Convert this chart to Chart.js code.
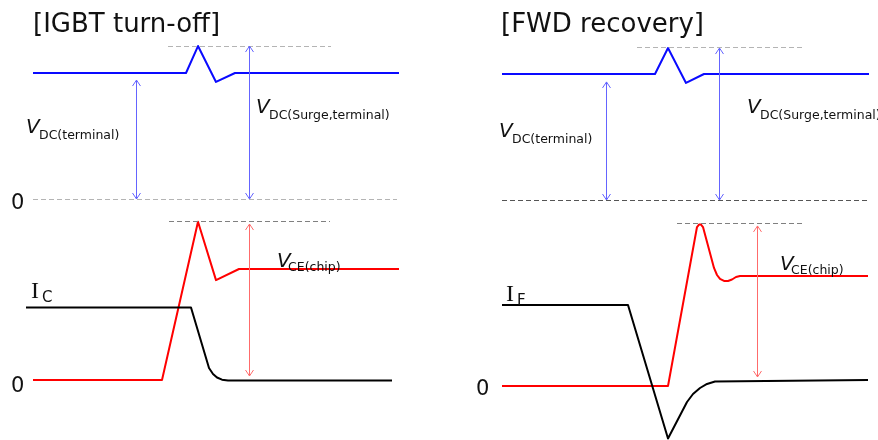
<!DOCTYPE html>
<html>
<head>
<meta charset="utf-8">
<script src="https://cdn.jsdelivr.net/npm/chart.js@4/dist/chart.umd.min.js"></script>
<style>
  html, body { margin: 0; padding: 0; background: #ffffff; }
  #wrap { position: relative; width: 878px; height: 440px; overflow: hidden; }
  canvas { position: absolute; top: 0; }
  #c1 { left: 0; }
  #c2 { left: 439px; }
</style>
</head>
<body>
<div id="wrap">
  <canvas id="c1" width="439" height="440"></canvas>
  <canvas id="c2" width="439" height="440"></canvas>
</div>
<script>
// ---- IGBT turn-off waveforms (time in arbitrary units, levels normalised to V_DC / I_C) ----
const igbtVtermT = [0, 7.65, 8.25, 9.15, 10.1, 18.3];
const igbtVterm  = [1, 1, 1.214, 0.929, 1, 1];
const igbtVchipT = [0, 6.45, 8.25, 9.15, 10.3, 18.3];
const igbtVchip  = [0, 0, 1.426, 0.90, 1, 1];
const igbtIcT    = [-0.35, 7.9, 8.8, 9.0, 9.2, 9.45, 9.75, 17.95];
const igbtIc     = [1, 1, 0.171, 0.089, 0.041, 0.011, 0, 0];

// ---- FWD recovery waveforms ----
const fwdVtermT = [1.5, 9.15, 9.8, 10.7, 11.6, 19.85];
const fwdVterm  = [1, 1, 1.206, 0.929, 1, 1];
const fwdVchipT = [1.5, 9.8, 11.25, 11.35, 11.45, 11.55, 12.1, 12.25, 12.4, 12.6, 12.8, 13.0, 13.2, 13.4, 19.8];
const fwdVchip  = [0, 0, 1.445, 1.468, 1.468, 1.445, 1.073, 1.009, 0.973, 0.955, 0.955, 0.968, 0.991, 1, 1];
const fwdIfT    = [1.5, 7.8, 9.8, 10.75, 11.05, 11.4, 11.75, 12.15, 19.8];
const fwdIf     = [1, 1, -0.757, -0.276, -0.171, -0.092, -0.039, -0.007, 0.013];

// ---- reference levels: [axis, level, t from, t to] ----
const igbtGuides = [['yTerm', 1.214, 6.75, 14.9], ['yTerm', 0, 0, 18.2], ['yChip', 1.432, 6.8, 14.85]];
const fwdGuides  = [['yTerm', 1.214, 8.25, 16.5], ['yTerm', 0, 1.5, 19.75], ['yChip', 1.482, 10.25, 16.5]];

// ---- dimension arrows: [axis, t, from level, to level] ----
const igbtArrows = [['yTerm', 5.15, 0, 0.944], ['yTerm', 10.8, 0, 1.214], ['yChip', 10.8, 0.036, 1.405]];
const fwdArrows  = [['yTerm', 6.7, 0, 0.937], ['yTerm', 12.35, 0, 1.206], ['yChip', 14.25, 0.082, 1.455]];

// ---- text ----
const panelTitles = ['[IGBT turn-off]', '[FWD recovery]'];
const currentSubs = ['C', 'F'];
const vdcSub = 'DC(terminal)';
const surgeSub = 'DC(Surge,terminal)';
const chipSub = 'CE(chip)';

const toPts = (ts, vs) => ts.map((t, i) => ({ x: t, y: vs[i] }));

const SANS = '"DejaVu Sans", Verdana, sans-serif';
const SERIF = '"Liberation Serif", "DejaVu Serif", serif';

function drawArrow(ctx, x, yA, yB, color) {
  const top = Math.min(yA, yB), bot = Math.max(yA, yB);
  ctx.save();
  ctx.strokeStyle = color;
  ctx.lineWidth = 1;
  ctx.beginPath();
  ctx.moveTo(x, top); ctx.lineTo(x, bot);
  ctx.moveTo(x - 4, top + 6); ctx.lineTo(x, top); ctx.lineTo(x + 4, top + 6);
  ctx.moveTo(x - 4, bot - 6); ctx.lineTo(x, bot); ctx.lineTo(x + 4, bot - 6);
  ctx.stroke();
  ctx.restore();
}

function drawSubLabel(ctx, x, y, main, sub, mainFont, subFont, subDx, subDy) {
  ctx.font = mainFont;
  ctx.fillText(main, x, y);
  ctx.font = subFont;
  ctx.fillText(sub, x + subDx, y + subDy);
}

// Draws reference lines, arrows and annotation text for one panel
const annotate = {
  id: 'annotate',
  afterDatasetsDraw(chart, args, o) {
    const ctx = chart.ctx, sx = chart.scales.x;
    ctx.save();
    o.guides.forEach((g, i) => {
      const y = Math.round(chart.scales[g[0]].getPixelForValue(g[1])) + 0.5;
      ctx.strokeStyle = o.guideColors[i];
      ctx.lineWidth = 1;
      ctx.setLineDash([5, 3]);
      ctx.beginPath();
      ctx.moveTo(sx.getPixelForValue(g[2]), y);
      ctx.lineTo(sx.getPixelForValue(g[3]), y);
      ctx.stroke();
    });
    ctx.setLineDash([]);
    o.arrows.forEach((a) => {
      const sc = chart.scales[a[0]];
      const x = Math.round(sx.getPixelForValue(a[1])) + 0.5;
      drawArrow(ctx, x, sc.getPixelForValue(a[2]), sc.getPixelForValue(a[3]),
                a[0] === 'yChip' ? '#ff6b6b' : '#6464ff');
    });

    ctx.fillStyle = '#111111';
    ctx.textBaseline = 'alphabetic';
    ctx.textAlign = 'left';
    ctx.font = '26px ' + SANS;
    ctx.fillText(o.title, o.titleX, 32);

    const vMain = 'italic 20px ' + SANS, vSub = '12.5px ' + SANS;
    drawSubLabel(ctx, o.vdc[0], o.vdc[1], 'V', vdcSub, vMain, vSub, 13, 6);
    drawSubLabel(ctx, o.surge[0], o.surge[1], 'V', surgeSub, vMain, vSub, 13, 6);
    drawSubLabel(ctx, o.chip[0], o.chip[1], 'V', chipSub, vMain, vSub, 11, 4);
    drawSubLabel(ctx, o.cur[0], o.cur[1], 'I', o.curSub, '24px ' + SERIF, '15px ' + SANS, 11, 4);

    ctx.font = '21px ' + SANS;
    ctx.textBaseline = 'middle';
    o.zeros.forEach((z) => {
      const y = chart.scales[z[0]].getPixelForValue(0);
      ctx.fillText('0', o.zeroX, y + z[1]);
    });
    ctx.restore();
  }
};

function makeChart(id, series, axes, opts) {
  const line = (pts, color, axis) => ({
    data: pts, yAxisID: axis, borderColor: color, borderWidth: 2,
    pointRadius: 0, tension: 0, fill: false, borderJoinStyle: 'round'
  });
  const yAxis = (zeroPx, pxPerUnit) => ({
    type: 'linear', display: false,
    min: -(440 - zeroPx) / pxPerUnit, max: zeroPx / pxPerUnit
  });
  return new Chart(document.getElementById(id), {
    type: 'line',
    data: {
      datasets: [
        line(series.term, '#0a0aff', 'yTerm'),
        line(series.cur, '#000000', 'yCur'),
        line(series.chip, '#ff0000', 'yChip')
      ]
    },
    options: {
      responsive: false,
      animation: false,
      layout: { padding: 0 },
      scales: {
        x: { type: 'linear', display: false, min: -1.65, max: 20.3 },
        yTerm: yAxis(axes.term[0], axes.term[1]),
        yChip: yAxis(axes.chip[0], axes.chip[1]),
        yCur: yAxis(axes.cur[0], axes.cur[1])
      },
      plugins: { legend: { display: false }, tooltip: { enabled: false }, annotate: opts }
    },
    plugins: [annotate]
  });
}

makeChart('c1',
  { term: toPts(igbtVtermT, igbtVterm), chip: toPts(igbtVchipT, igbtVchip), cur: toPts(igbtIcT, igbtIc) },
  { term: [199, 126], chip: [380, 111], cur: [380.5, 73] },
  {
    guides: igbtGuides, guideColors: ['#b4b4b4', '#b4b4b4', '#808080'], arrows: igbtArrows,
    title: panelTitles[0], titleX: 33,
    vdc: [26, 133], surge: [256, 113], chip: [277, 267], cur: [31, 298], curSub: currentSubs[0],
    zeroX: 11, zeros: [['yTerm', 5], ['yChip', 7]]
  });

makeChart('c2',
  { term: toPts(fwdVtermT, fwdVterm), chip: toPts(fwdVchipT, fwdVchip), cur: toPts(fwdIfT, fwdIf) },
  { term: [200, 126], chip: [386, 110], cur: [381, 76] },
  {
    guides: fwdGuides, guideColors: ['#b4b4b4', '#555555', '#808080'], arrows: fwdArrows,
    title: panelTitles[1], titleX: 62,
    vdc: [60, 137], surge: [308, 113], chip: [341, 270], cur: [67, 301], curSub: currentSubs[1],
    zeroX: 37, zeros: [['yChip', 4]]
  });
</script>
</body>
</html>
